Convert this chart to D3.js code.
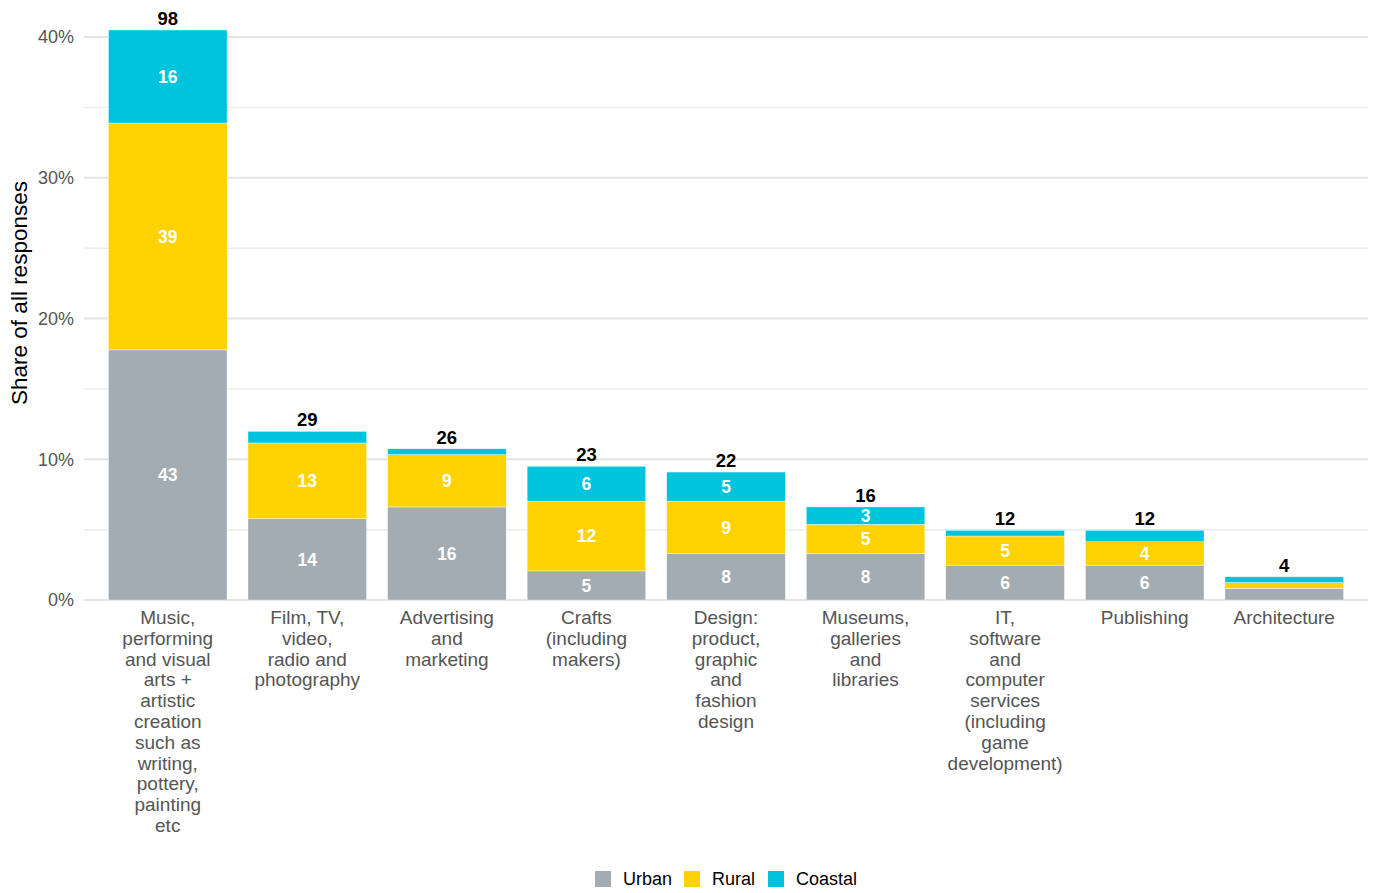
<!DOCTYPE html>
<html>
<head>
<meta charset="utf-8">
<script src="https://cdn.jsdelivr.net/npm/d3@7"></script>
<style>
  html, body { margin: 0; padding: 0; background: #fff; }
  svg { display: block; font-family: "Liberation Sans", Arial, Helvetica, sans-serif; }
</style>
</head>
<body>
<svg id="chart" width="1376" height="893"></svg>
<script>
// Creative sectors, with the label split into its printed lines
const sectors = [
  ["Music,", "performing", "and visual", "arts +", "artistic", "creation", "such as", "writing,", "pottery,", "painting", "etc"],
  ["Film, TV,", "video,", "radio and", "photography"],
  ["Advertising", "and", "marketing"],
  ["Crafts", "(including", "makers)"],
  ["Design:", "product,", "graphic", "and", "fashion", "design"],
  ["Museums,", "galleries", "and", "libraries"],
  ["IT,", "software", "and", "computer", "services", "(including", "game", "development)"],
  ["Publishing"],
  ["Architecture"]
];

// Response counts per location type
const urban   = [43, 14, 16, 5, 8, 8, 6, 6, 2];
const rural   = [39, 13,  9, 12, 9, 5, 5, 4, 1];
const coastal = [16,  2,  1, 6, 5, 3, 1, 2, 1];

const seriesNames = ["Urban", "Rural", "Coastal"];
const seriesColors = ["#a3acb2", "#ffd200", "#00c4de"];
const yTicks = [0, 0.1, 0.2, 0.3, 0.4];
const yMinor = [0.05, 0.15, 0.25, 0.35];

const width = 1376, height = 893;
const margin = { top: 37, right: 8, bottom: 293, left: 84 };

const svg = d3.select("#chart");

const keys = sectors.map((s, i) => "s" + i);
const rows = keys.map((k, i) => ({ key: k, Urban: urban[i], Rural: rural[i], Coastal: coastal[i] }));
const totals = rows.map(r => r.Urban + r.Rural + r.Coastal);
const grand = d3.sum(totals);

const stack = d3.stack().keys(seriesNames).value((d, k) => d[k] / grand);
const layers = stack(rows);

// Discrete band scale with a 0.6-step expansion on each side
const n = keys.length;
const step = (width - margin.right - margin.left) / (n - 1 + 1.2);
const x = d3.scaleBand()
  .domain(keys)
  .range([margin.left + 0.6 * step - step / 2, margin.left + (n - 1 + 0.6) * step + step / 2])
  .paddingInner(0.15)
  .paddingOuter(0.075);

const y = d3.scaleLinear().domain([0, 0.4]).range([600, 37]);

const x0 = margin.left, x1 = width - margin.right;

// Grid
svg.append("g").selectAll("line.minor").data(yMinor).join("line")
  .attr("x1", x0).attr("x2", x1)
  .attr("y1", d => y(d)).attr("y2", d => y(d))
  .attr("stroke", "#ececec").attr("stroke-width", 1.5);
svg.append("g").selectAll("line.major").data(yTicks).join("line")
  .attr("x1", x0).attr("x2", x1)
  .attr("y1", d => y(d)).attr("y2", d => y(d))
  .attr("stroke", "#e4e4e4").attr("stroke-width", 2);

// Y axis labels
const yAxis = d3.axisLeft(y).tickValues(yTicks).tickFormat(d3.format(".0%")).tickSize(0).tickPadding(10);
const yg = svg.append("g").attr("transform", `translate(${x0},0)`).call(yAxis);
yg.select(".domain").remove();
yg.selectAll("text").attr("fill", "#555").style("font-size", "18px").style("font-family", "Liberation Sans, Arial, sans-serif");

// Y axis title
svg.append("text")
  .attr("transform", "translate(27,293) rotate(-90)")
  .attr("text-anchor", "middle")
  .attr("fill", "#000")
  .style("font-size", "22.5px")
  .text("Share of all responses");

// Bars
const barG = svg.append("g");
layers.forEach((layer, li) => {
  barG.append("g").selectAll("rect").data(layer).join("rect")
    .attr("x", d => x(d.data.key))
    .attr("width", x.bandwidth())
    .attr("y", d => y(d[1]))
    .attr("height", d => y(d[0]) - y(d[1]))
    .attr("fill", seriesColors[li])
    .attr("stroke", "#fff").attr("stroke-width", 0.4);
});

// Segment value labels (only where the segment holds at least 3 responses)
layers.forEach((layer, li) => {
  barG.append("g").selectAll("text").data(layer.filter(d => d.data[seriesNames[li]] >= 3)).join("text")
    .attr("x", d => x(d.data.key) + x.bandwidth() / 2)
    .attr("y", d => (y(d[0]) + y(d[1])) / 2)
    .attr("dy", "0.36em")
    .attr("text-anchor", "middle")
    .attr("fill", "#fff")
    .style("font-size", "17.5px").style("font-weight", "bold")
    .text(d => d.data[seriesNames[li]]);
});

// Totals above each bar
svg.append("g").selectAll("text").data(rows).join("text")
  .attr("x", d => x(d.key) + x.bandwidth() / 2)
  .attr("y", (d, i) => y(totals[i] / grand) - 5)
  .attr("text-anchor", "middle")
  .attr("fill", "#000")
  .style("font-size", "18.5px").style("font-weight", "bold")
  .text((d, i) => totals[i]);

// Category labels
const catG = svg.append("g");
sectors.forEach((lines, i) => {
  const t = catG.append("text")
    .attr("x", x(keys[i]) + x.bandwidth() / 2)
    .attr("y", 624)
    .attr("text-anchor", "middle")
    .attr("fill", "#555")
    .style("font-size", "19px");
  lines.forEach((ln, j) => {
    t.append("tspan")
      .attr("x", x(keys[i]) + x.bandwidth() / 2)
      .attr("y", 624 + j * 20.8)
      .text(ln);
  });
});

// Legend
const legend = svg.append("g");
const legendItems = [
  { name: "Urban", x: 595 },
  { name: "Rural", x: 684 },
  { name: "Coastal", x: 768 }
];
legendItems.forEach((it, i) => {
  legend.append("rect")
    .attr("x", it.x).attr("y", 871)
    .attr("width", 16).attr("height", 16)
    .attr("fill", seriesColors[i]);
  legend.append("text")
    .attr("x", it.x + 28).attr("y", 885)
    .attr("fill", "#000")
    .style("font-size", "18px")
    .text(it.name);
});
</script>
</body>
</html>
